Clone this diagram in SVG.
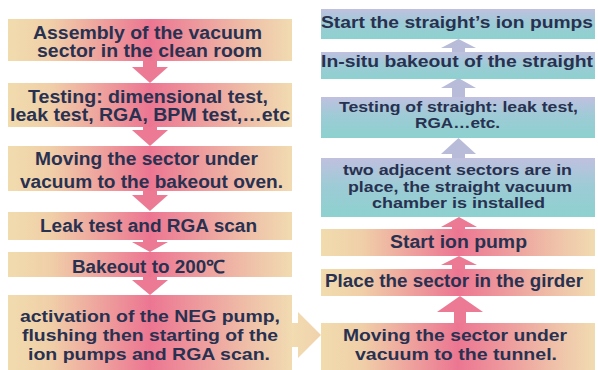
<svg xmlns="http://www.w3.org/2000/svg" width="598" height="370" viewBox="0 0 598 370">
  <defs>
    <!-- beige / rose band used by the process steps -->
    <linearGradient id="warm" x1="0" y1="0" x2="1" y2="0">
      <stop offset="0" stop-color="#f1dcae"/>
      <stop offset="0.15" stop-color="#f0cfa8"/>
      <stop offset="0.5" stop-color="#ec7692"/>
      <stop offset="0.85" stop-color="#efc0a8"/>
      <stop offset="1" stop-color="#f1dbb1"/>
    </linearGradient>
    <!-- lavender to teal band used by the straight-section steps -->
    <linearGradient id="cool" x1="0" y1="0" x2="0" y2="1">
      <stop offset="0" stop-color="#c0c0df"/>
      <stop offset="0.45" stop-color="#9ecbd6"/>
      <stop offset="1" stop-color="#8dd1cf"/>
    </linearGradient>
    <linearGradient id="side" x1="0" y1="0" x2="1" y2="0">
      <stop offset="0" stop-color="#f2dcb0"/>
      <stop offset="1" stop-color="#f0d2ad"/>
    </linearGradient>
  </defs>
  <style>
    .warm { fill: url(#warm); }
    .cool { fill: url(#cool); }
    .pink { fill: #ec7a94; }
    .lav { fill: #b9bcd9; }
    .t { font-family: "Liberation Sans", Arial, sans-serif; font-weight: bold; font-size: 18px; fill: #283150; }
    .r { font-size: 17px; }
    .s { font-size: 15.5px; }
  </style>
  <rect width="598" height="370" fill="#ffffff"/>

  <!-- connectors -->
  <g id="connectors">
    <!-- left column, downward -->
    <polygon class="pink" points="143,60 157,60 157,67 168,67 150,83 132,67 143,67"/>
    <polygon class="pink" points="143,126 157,126 157,130 168,130 150,146 132,130 143,130"/>
    <polygon class="pink" points="143,190 157,190 157,195 168,195 150,211 132,195 143,195"/>
    <polygon class="pink" points="143,239 157,239 157,242 168,242 150,252 132,242 143,242"/>
    <polygon class="pink" points="143,276 157,276 157,280 168,280 150,295 132,280 143,280"/>
    <!-- hand-over to the tunnel -->
    <polygon fill="url(#side)" points="291,323 298,323 298,312 321,335 298,358 298,347 291,347"/>
    <!-- right column, upward -->
    <polygon class="lav" points="452,53 465,53 465,48 476,48 458.5,39 441,48 452,48"/>
    <polygon class="lav" points="452,98 465,98 465,88 476,88 458.5,78 441,88 452,88"/>
    <polygon class="lav" points="452,159 465,159 465,154 476,154 458.5,138 441,154 452,154"/>
    <polygon class="pink" points="452,230 465,230 465,227 477,227 459,217 441,227 452,227"/>
    <polygon class="pink" points="452,270 465,270 465,265 477,265 459,256 441,265 452,265"/>
    <polygon class="pink" points="454,324 466,324 466,312 483,312 460,296 437,312 454,312"/>
  </g>

  <!-- left column -->
  <g id="assembly">
    <rect class="warm" x="8" y="19" width="284" height="42"/>
    <text class="t" x="33" y="39" textLength="229" lengthAdjust="spacingAndGlyphs">Assembly of the vacuum</text>
    <text class="t" x="37" y="57" textLength="225" lengthAdjust="spacingAndGlyphs">sector in the clean room</text>
  </g>
  <g id="testing">
    <rect class="warm" x="8" y="83" width="284" height="44"/>
    <text class="t" x="28" y="103" textLength="240" lengthAdjust="spacingAndGlyphs">Testing: dimensional test,</text>
    <text class="t" x="10" y="121" textLength="280" lengthAdjust="spacingAndGlyphs">leak test, RGA, BPM test,…etc</text>
  </g>
  <g id="move-oven">
    <rect class="warm" x="8" y="146" width="284" height="45"/>
    <text class="t" x="35" y="165" textLength="223" lengthAdjust="spacingAndGlyphs">Moving the sector under</text>
    <text class="t" x="20" y="188" textLength="263" lengthAdjust="spacingAndGlyphs">vacuum to the bakeout oven.</text>
  </g>
  <g id="leak-rga">
    <rect class="warm" x="8" y="212" width="284" height="28"/>
    <text class="t" x="40" y="232" textLength="217" lengthAdjust="spacingAndGlyphs">Leak test and RGA scan</text>
  </g>
  <g id="bakeout">
    <rect class="warm" x="8" y="252" width="284" height="25"/>
    <text class="t" x="72" y="273" textLength="153" lengthAdjust="spacingAndGlyphs">Bakeout to 200℃</text>
  </g>
  <g id="activation">
    <rect class="warm" x="8" y="295" width="284" height="75"/>
    <text class="t r" x="20" y="322" textLength="260" lengthAdjust="spacingAndGlyphs">activation of the NEG pump,</text>
    <text class="t r" x="22" y="341" textLength="256" lengthAdjust="spacingAndGlyphs">flushing then starting of the</text>
    <text class="t r" x="28" y="360" textLength="242" lengthAdjust="spacingAndGlyphs">ion pumps and RGA scan.</text>
  </g>

  <!-- right column -->
  <g id="start-straight-pumps">
    <rect class="cool" x="321" y="9" width="274" height="30"/>
    <text class="t r" x="321" y="28" textLength="272" lengthAdjust="spacingAndGlyphs">Start the straight’s ion pumps</text>
  </g>
  <g id="insitu-bakeout">
    <rect class="cool" x="321" y="52" width="274" height="27"/>
    <text class="t r" x="321" y="67" textLength="272" lengthAdjust="spacingAndGlyphs">In-situ bakeout of the straight</text>
  </g>
  <g id="testing-straight">
    <rect class="cool" x="321" y="97" width="274" height="41"/>
    <text class="t s" x="339" y="112" textLength="239" lengthAdjust="spacingAndGlyphs">Testing of straight: leak test,</text>
    <text class="t s" x="415" y="128" textLength="85" lengthAdjust="spacingAndGlyphs">RGA…etc.</text>
  </g>
  <g id="straight-installed">
    <rect class="cool" x="321" y="158" width="274" height="59"/>
    <text class="t s" x="343" y="175" textLength="229" lengthAdjust="spacingAndGlyphs">two adjacent sectors are in</text>
    <text class="t s" x="348" y="192" textLength="224" lengthAdjust="spacingAndGlyphs">place, the straight vacuum</text>
    <text class="t s" x="372" y="208" textLength="173" lengthAdjust="spacingAndGlyphs">chamber is installed</text>
  </g>
  <g id="start-ion-pump">
    <rect class="warm" x="321" y="229" width="274" height="27"/>
    <text class="t" x="390" y="248" textLength="137" lengthAdjust="spacingAndGlyphs">Start ion pump</text>
  </g>
  <g id="girder">
    <rect class="warm" x="321" y="269" width="274" height="27"/>
    <text class="t" x="325" y="287" textLength="258" lengthAdjust="spacingAndGlyphs">Place the sector in the girder</text>
  </g>
  <g id="move-tunnel">
    <rect class="warm" x="321" y="323" width="274" height="47"/>
    <text class="t r" x="343" y="341" textLength="224" lengthAdjust="spacingAndGlyphs">Moving the sector under</text>
    <text class="t r" x="355" y="360" textLength="202" lengthAdjust="spacingAndGlyphs">vacuum to the tunnel.</text>
  </g>
</svg>
